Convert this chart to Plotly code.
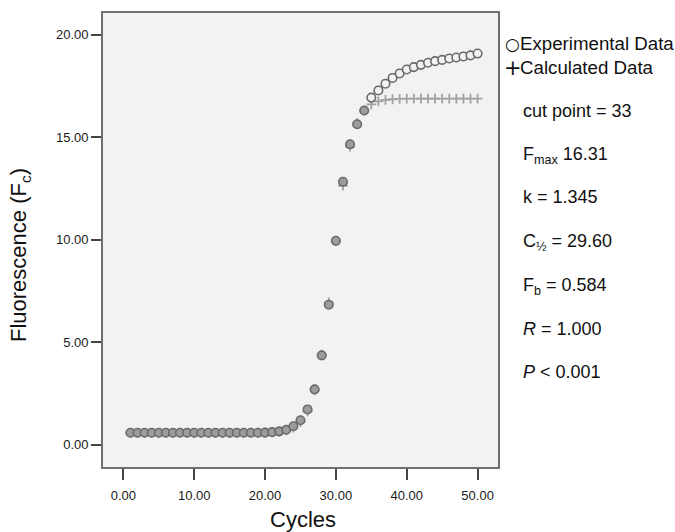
import plotly.graph_objects as go

cycles = list(range(1, 51))
experimental = [0.58] * 19 + [0.59, 0.61, 0.65, 0.73, 0.90, 1.19, 1.72, 2.70, 4.36, 6.83, 9.95,
                12.83, 14.66, 15.64, 16.31, 16.94, 17.29, 17.62, 17.90, 18.12, 18.31,
                18.43, 18.54, 18.64, 18.72, 18.78, 18.85, 18.90, 18.95, 19.00, 19.09]
calculated = [0.58] * 17 + [0.59, 0.59, 0.60, 0.61, 0.64, 0.70, 0.83, 1.10, 1.63, 2.65, 4.39, 6.95, 9.94,
              12.64, 14.55, 15.69, 16.30, 16.61, 16.76, 16.83, 16.86, 16.88, 16.89,
              16.89, 16.89, 16.89, 16.89, 16.89, 16.89, 16.89, 16.89, 16.89, 16.89]
cut_point = 34
x_ticks = [0, 10, 20, 30, 40, 50]
y_ticks = [0, 5, 10, 15, 20]
legend_labels = ["Experimental Data", "Calculated Data"]
stats = ["cut point = 33", "F<sub>max</sub> 16.31", "k = 1.345", "C<sub>½</sub> = 29.60",
         "F<sub>b</sub> = 0.584", "<i>R</i> = 1.000", "<i>P</i> &lt; 0.001"]
stats_y = [111, 155, 197, 242, 286, 329, 372]

BG = "#f2f2f2"
FONT = "Liberation Sans, Arial, sans-serif"
fill = ["#9c9c9c" if c <= cut_point else BG for c in cycles]

fig = go.Figure()
fig.add_trace(go.Scatter(
    x=cycles, y=calculated, mode="markers", name=legend_labels[1],
    marker=dict(symbol="cross-thin", size=7, line=dict(color="#a2a2a2", width=1.8)),
))
fig.add_trace(go.Scatter(
    x=cycles, y=experimental, mode="markers", name=legend_labels[0],
    marker=dict(symbol="circle", size=8.5, color=fill, line=dict(color="#6a6a6a", width=1.6)),
))

L, R, T, B = 103, 177, 13, 65
W, H = 675, 532
pw, ph = W - L - R, H - T - B

def px(x):
    return (x - L) / pw

def py(y):
    return 1 - (y - T) / ph

ann = []
ann.append(dict(x=px(512), y=py(44), text="○", showarrow=False, xanchor="center", yanchor="middle",
                xref="paper", yref="paper", font=dict(family="DejaVu Sans", size=17, color="#111")))
ann.append(dict(x=px(512.5), y=py(68), text="+", showarrow=False, xanchor="center", yanchor="middle",
                xref="paper", yref="paper", font=dict(family="DejaVu Sans", size=21, color="#111")))
for t, yy in zip(legend_labels, [44, 68]):
    ann.append(dict(x=px(518), y=py(yy), text=t, showarrow=False, xanchor="left",
                    yanchor="middle", xref="paper", yref="paper",
                    font=dict(family=FONT, size=18.7, color="#111")))
for t, yy in zip(stats, stats_y):
    ann.append(dict(x=px(521), y=py(yy), text=t, showarrow=False, xanchor="left", yanchor="middle",
                    xref="paper", yref="paper", font=dict(family=FONT, size=18, color="#111")))
# axis titles
ann.append(dict(x=px(20), y=py(255), text="Fluorescence (F<sub>c</sub>)", textangle=-90,
                showarrow=False, xanchor="center", yanchor="middle", xref="paper", yref="paper",
                font=dict(family=FONT, size=22, color="#111")))
ann.append(dict(x=px(303), y=py(519), text="Cycles",
                showarrow=False, xanchor="center", yanchor="middle", xref="paper", yref="paper",
                font=dict(family=FONT, size=22, color="#111")))

axis_common = dict(showgrid=False, zeroline=False, showline=True, mirror=True, automargin=False,
                   linecolor="#707070", linewidth=1.6, ticks="outside", tickcolor="#444",
                   tickwidth=2, tickformat=".2f",
                   tickfont=dict(family=FONT, size=13, color="#1a1a1a"))

fig.update_layout(
    width=W, height=H, margin=dict(l=L, r=R, t=T, b=B, autoexpand=False),
    paper_bgcolor="white", plot_bgcolor=BG, showlegend=False,
    xaxis=dict(range=[-2.87, 52.88], tickvals=x_ticks, ticklen=11, ticklabelstandoff=5,
               **axis_common),
    yaxis=dict(range=[-1.09, 21.07], tickvals=y_ticks, ticklen=10, **axis_common),
    annotations=ann,
)

fig.write_html("out.html")
